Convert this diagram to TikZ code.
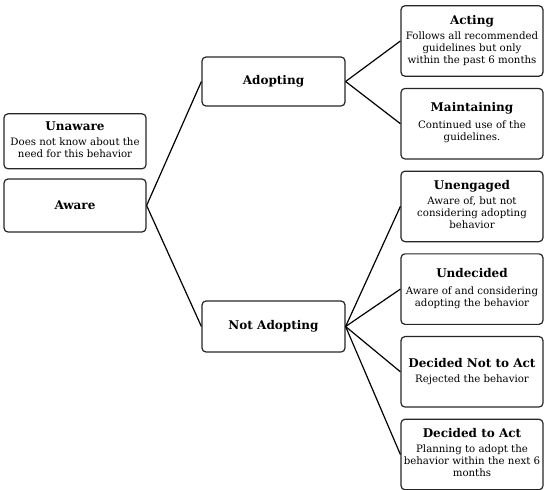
\documentclass[tikz,border=0pt]{standalone}
\usepackage{fontspec}
\setmainfont{DejaVu Serif}
\usepackage{tikz}
\usetikzlibrary{positioning}
\tikzset{
    block/.style={
           rectangle,
           rounded corners=4pt,
           draw=black!85, very thick,
           minimum width=142pt,
           minimum height=70.5pt,
           inner sep=2pt,
           text centered,
           },
     midblock/.style={
           rectangle,
           rounded corners=4pt,
           draw=black!85, very thick,
           minimum width=143pt,
           minimum height=50pt,
           inner sep=2pt,
           text centered,
           },
}
\newcommand{\boxhead}[1]{{\fontsize{12}{14}\selectfont\bfseries #1}}
\newcommand{\boxtext}{\fontsize{10.2}{14.8}\selectfont}

\begin{document}
\begin{tikzpicture}[x=1pt,y=-1pt]
	\useasboundingbox (0,0) rectangle (550,490);
	\node[block, minimum height=53pt] (aware) at (75,205.5) {\boxhead{Aware}};
	\node[block, minimum height=55pt, above=9pt of aware] (unaware) {
		\begin{tabular}{@{}c@{}}
		\boxhead{Unaware}\\[3pt]
		\boxtext Does not know about the\\
		\boxtext need for this behavior
		\end{tabular}
	};
	\node[midblock, minimum height=49pt] (adopt) at (273.5,81.5) {\boxhead{Adopting}};
	\node[midblock, minimum height=51pt] (notadopt) at (273.5,326.5) {\boxhead{Not Adopting}};

	\node[block] (acting) at (472,41) {
		\begin{tabular}{@{}c@{}}
		\boxhead{Acting}\\[3pt]
		\boxtext Follows all recommended\\
		\boxtext guidelines but only\\
		\boxtext within the past 6 months
		\end{tabular}
	};
	\node[block, below=11pt of acting] (maintain) {
		\begin{tabular}{@{}c@{}}
		\boxhead{Maintaining}\\[5pt]
		\boxtext Continued use of the\\
		\boxtext guidelines.
		\end{tabular}
	};
	\node[block, below=11pt of maintain] (unengaged) {
		\begin{tabular}{@{}c@{}}
		\boxhead{Unengaged}\\[3pt]
		\boxtext Aware of, but not\\
		\boxtext considering adopting\\
		\boxtext behavior
		\end{tabular}
	};
	\node[block, below=11pt of unengaged] (undecided) {
		\begin{tabular}{@{}c@{}}
		\boxhead{Undecided}\\[5pt]
		\boxtext Aware of and considering\\
		\boxtext adopting the behavior
		\end{tabular}
	};
	\node[block, below=11pt of undecided] (decnot) {
		\begin{tabular}{@{}c@{}}
		\boxhead{Decided Not to Act}\\[3pt]
		\boxtext Rejected the behavior
		\end{tabular}
	};
	\node[block, below=11pt of decnot] (decact) {
		\begin{tabular}{@{}c@{}}
		\boxhead{Decided to Act}\\[3pt]
		\boxtext Planning to adopt the\\
		\boxtext behavior within the next 6\\
		\boxtext months
		\end{tabular}
	};

	\path[-,very thick] (aware.east) edge (adopt.west);
	\path[-,very thick] (aware.east) edge (notadopt.west);
	\path[-,very thick] (adopt.east) edge (acting.west);
	\path[-,very thick] (adopt.east) edge (maintain.west);
	\path[-,very thick] (notadopt.east) edge (unengaged.west);
	\path[-,very thick] (notadopt.east) edge (undecided.west);
	\path[-,very thick] (notadopt.east) edge (decnot.west);
	\path[-,very thick] (notadopt.east) edge (decact.west);
\end{tikzpicture}
\end{document}
